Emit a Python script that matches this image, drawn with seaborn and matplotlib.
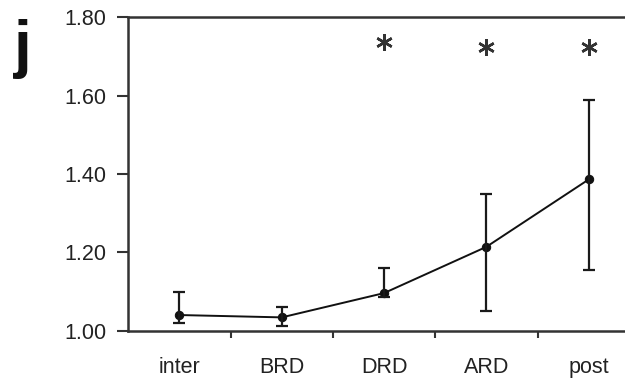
import matplotlib
matplotlib.use("Agg")
import matplotlib.pyplot as plt
import seaborn as sns
import numpy as np
import pandas as pd
from matplotlib.ticker import FixedLocator

categories = ["inter", "BRD", "DRD", "ARD", "post"]
means = [1.04, 1.034, 1.096, 1.214, 1.386]
upper = [1.10, 1.06, 1.16, 1.35, 1.59]
lower = [1.02, 1.012, 1.085, 1.05, 1.155]
star_cats = ["DRD", "ARD", "post"]
star_y = [1.738, 1.725, 1.725]
yticks = [1.00, 1.20, 1.40, 1.60, 1.80]
ytick_labels = ["1.00", "1.20", "1.40", "1.60", "1.80"]

sns.set_theme(style="white")
plt.rcParams["font.family"] = ["Liberation Sans", "DejaVu Sans"]

fig = plt.figure(figsize=(6.25, 3.85), dpi=100)
ax = fig.add_axes([128.3 / 625, (385 - 330.7) / 385, 511.5 / 625, (330.7 - 17.3) / 385])

df = pd.DataFrame({"x": np.arange(len(categories)), "y": means})
sns.lineplot(data=df, x="x", y="y", ax=ax, color="#111111", linewidth=1.4,
             marker="o", markersize=6, markeredgecolor="#111111", legend=False)

x = np.arange(len(categories))
m = np.array(means)
yerr = np.vstack([m - np.array(lower), np.array(upper) - m])
ax.errorbar(x, m, yerr=yerr, fmt="none", ecolor="#1a1a1a", elinewidth=1.6,
            capsize=4, capthick=1.6)

sx = [categories.index(c) for c in star_cats]
ax.plot(sx, star_y, linestyle="none", marker=(6, 2, 0), markersize=12,
        markeredgewidth=1.8, color="#333333")

ax.set_xlim(-0.5, 4.5)
ax.set_ylim(1.0, 1.8)
ax.set_yticks(yticks)
ax.set_yticklabels(ytick_labels)
ax.set_xticks(x)
ax.set_xticklabels(categories)
ax.xaxis.set_minor_locator(FixedLocator([0.5, 1.5, 2.5, 3.5]))
ax.tick_params(axis="x", which="major", length=0, pad=19, labelsize=15.5, labelcolor="#222222")
ax.tick_params(axis="x", which="minor", bottom=True, length=5, width=1.5, color="#333333", direction="out")
ax.tick_params(axis="y", which="major", left=True, length=8, width=1.5, color="#333333",
               pad=8, labelsize=15.5, labelcolor="#222222", direction="out")
for lab in ax.get_yticklabels():
    lab.set_verticalalignment("center_baseline")
ax.set_xlabel("")
ax.set_ylabel("")
for s in ["left", "bottom", "top"]:
    ax.spines[s].set_visible(True)
    ax.spines[s].set_color("#333333")
    ax.spines[s].set_linewidth(1.8)
ax.spines["right"].set_visible(False)
ax.set_facecolor("white")
ax.grid(False)

fig.text(23 / 625, 1 - 66 / 385, "j", fontsize=46, fontweight="bold", color="#111111",
         ha="center", va="baseline")

fig.savefig("out.png", dpi=100, facecolor="white")
